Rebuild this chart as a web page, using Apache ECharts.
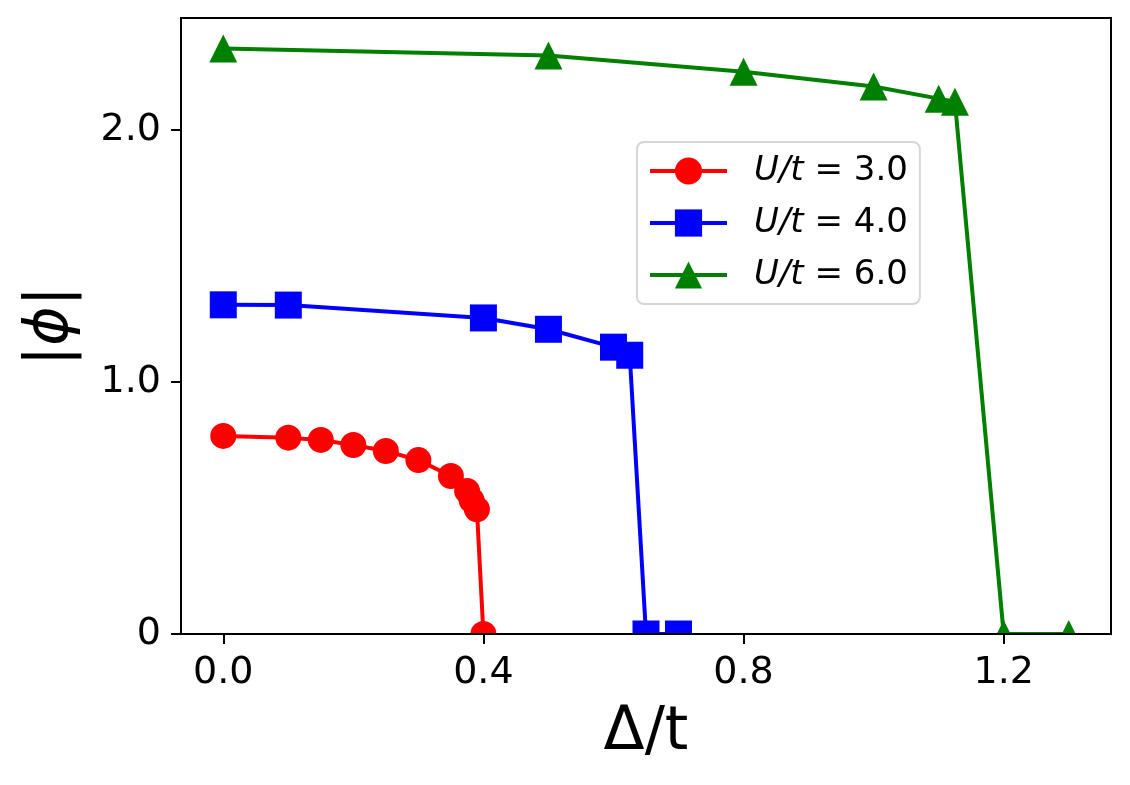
<!DOCTYPE html>
<html>
<head>
<meta charset="utf-8">
<script src="https://cdn.jsdelivr.net/npm/echarts@6/dist/echarts.min.js"></script>
<style>
  html, body { margin: 0; padding: 0; background: #fff; }
  #chart { width: 1130px; height: 785px; }
</style>
</head>
<body>
<div id="chart"></div>
<script>
// values
const redX = [0, 0.1, 0.15, 0.2, 0.25, 0.3, 0.35, 0.375, 0.382, 0.39, 0.4];
const redY = [0.786, 0.779, 0.77, 0.75, 0.726, 0.69, 0.627, 0.567, 0.53, 0.495, 0];
const blueX = [0, 0.1, 0.4, 0.5, 0.6, 0.625, 0.65, 0.7];
const blueY = [1.306, 1.305, 1.254, 1.209, 1.138, 1.106, 0, 0];
const greenX = [0, 0.5, 0.8, 1.0, 1.1, 1.125, 1.2, 1.3];
const greenY = [2.323, 2.295, 2.231, 2.172, 2.124, 2.112, 0, 0];
const seriesNames = ["U/t = 3.0", "U/t = 4.0", "U/t = 6.0"];
const xTicks = [0, 0.4, 0.8, 1.2];
const yTicks = [0, 1, 2];

const FONT = "DejaVu Sans";
const pair = (xs, ys) => xs.map((x, i) => [x, ys[i]]);

const makeSeries = (name, data, color, symbol, size) => ({
    name: name,
    type: "line",
    data: data,
    symbol: symbol,
    symbolSize: size,
    showSymbol: true,
    showAllSymbol: true,
    lineStyle: { color: color, width: 4 },
    itemStyle: { color: color },
    z: 2,
});

const chart = echarts.init(document.getElementById("chart"));
chart.setOption({
    animation: false,
    backgroundColor: "#fff",
    textStyle: { fontFamily: FONT },
    grid: {
        left: 181,
        right: 19,
        top: 18,
        bottom: 151,
        show: true,
        borderColor: "#000",
        borderWidth: 2,
    },
    xAxis: {
        type: "value",
        min: -0.065,
        max: 1.365,
        z: 200,
        name: "Δ/t",
        nameLocation: "middle",
        nameGap: 69,
        nameTextStyle: { fontFamily: FONT, fontSize: 60, color: "#000", lineHeight: 60 },
        axisLine: { show: true, onZero: false, lineStyle: { color: "#000", width: 2 } },
        axisTick: { show: true, inside: false, length: 10, customValues: xTicks, lineStyle: { color: "#000", width: 2 } },
        axisLabel: {
            customValues: xTicks,
            margin: 20,
            fontSize: 38,
            lineHeight: 38,
            color: "#000",
            fontFamily: FONT,
            formatter: (v) => v.toFixed(1),
        },
        splitLine: { show: false },
    },
    yAxis: {
        type: "value",
        min: 0,
        max: 2.444,
        z: 200,
        name: "|{i|ϕ}|",
        nameLocation: "middle",
        nameGap: 100,
        nameRotate: 90,
        nameTextStyle: {
            fontFamily: FONT,
            fontSize: 60,
            color: "#000",
            lineHeight: 60,
            rich: { i: { fontFamily: FONT, fontStyle: "italic", fontSize: 60, color: "#000" } },
        },
        axisLine: { show: true, onZero: false, lineStyle: { color: "#000", width: 2 } },
        axisTick: { show: true, inside: false, length: 10, customValues: yTicks, lineStyle: { color: "#000", width: 2 } },
        axisLabel: {
            customValues: yTicks,
            margin: 20,
            fontSize: 38,
            color: "#000",
            fontFamily: FONT,
            formatter: (v) => (v === 0 ? "0" : v.toFixed(1)),
        },
        splitLine: { show: false },
    },
    legend: {
        orient: "vertical",
        left: 637,
        top: 142,
        padding: [12, 12, 12, 11],
        itemWidth: 77,
        itemHeight: 34,
        itemGap: 18,
        backgroundColor: "#fff",
        borderColor: "#d6d6d6",
        borderWidth: 2,
        borderRadius: 7,
        lineStyle: { width: 4 },
        formatter: (name) => name.replace("U/t", "{i|U/t}"),
        textStyle: {
            fontFamily: FONT,
            fontSize: 34,
            color: "#000",
            padding: [0, 0, 0, 22],
            rich: { i: { fontFamily: FONT, fontStyle: "italic", fontSize: 34, color: "#000" } },
        },
        data: seriesNames,
    },
    // hides the lower half of markers sitting on y = 0, like the clipped plot
    graphic: [
        {
            type: "rect",
            z: 100,
            shape: { x: 150, y: 635, width: 980, height: 40 },
            style: { fill: "#fff" },
            silent: true,
        },
    ],
    series: [
        makeSeries(seriesNames[0], pair(redX, redY), "#ff0000", "circle", 26),
        makeSeries(seriesNames[1], pair(blueX, blueY), "#0000ff", "rect", 27),
        makeSeries(seriesNames[2], pair(greenX, greenY), "#008000", "triangle", 28),
    ],
});
</script>
</body>
</html>
